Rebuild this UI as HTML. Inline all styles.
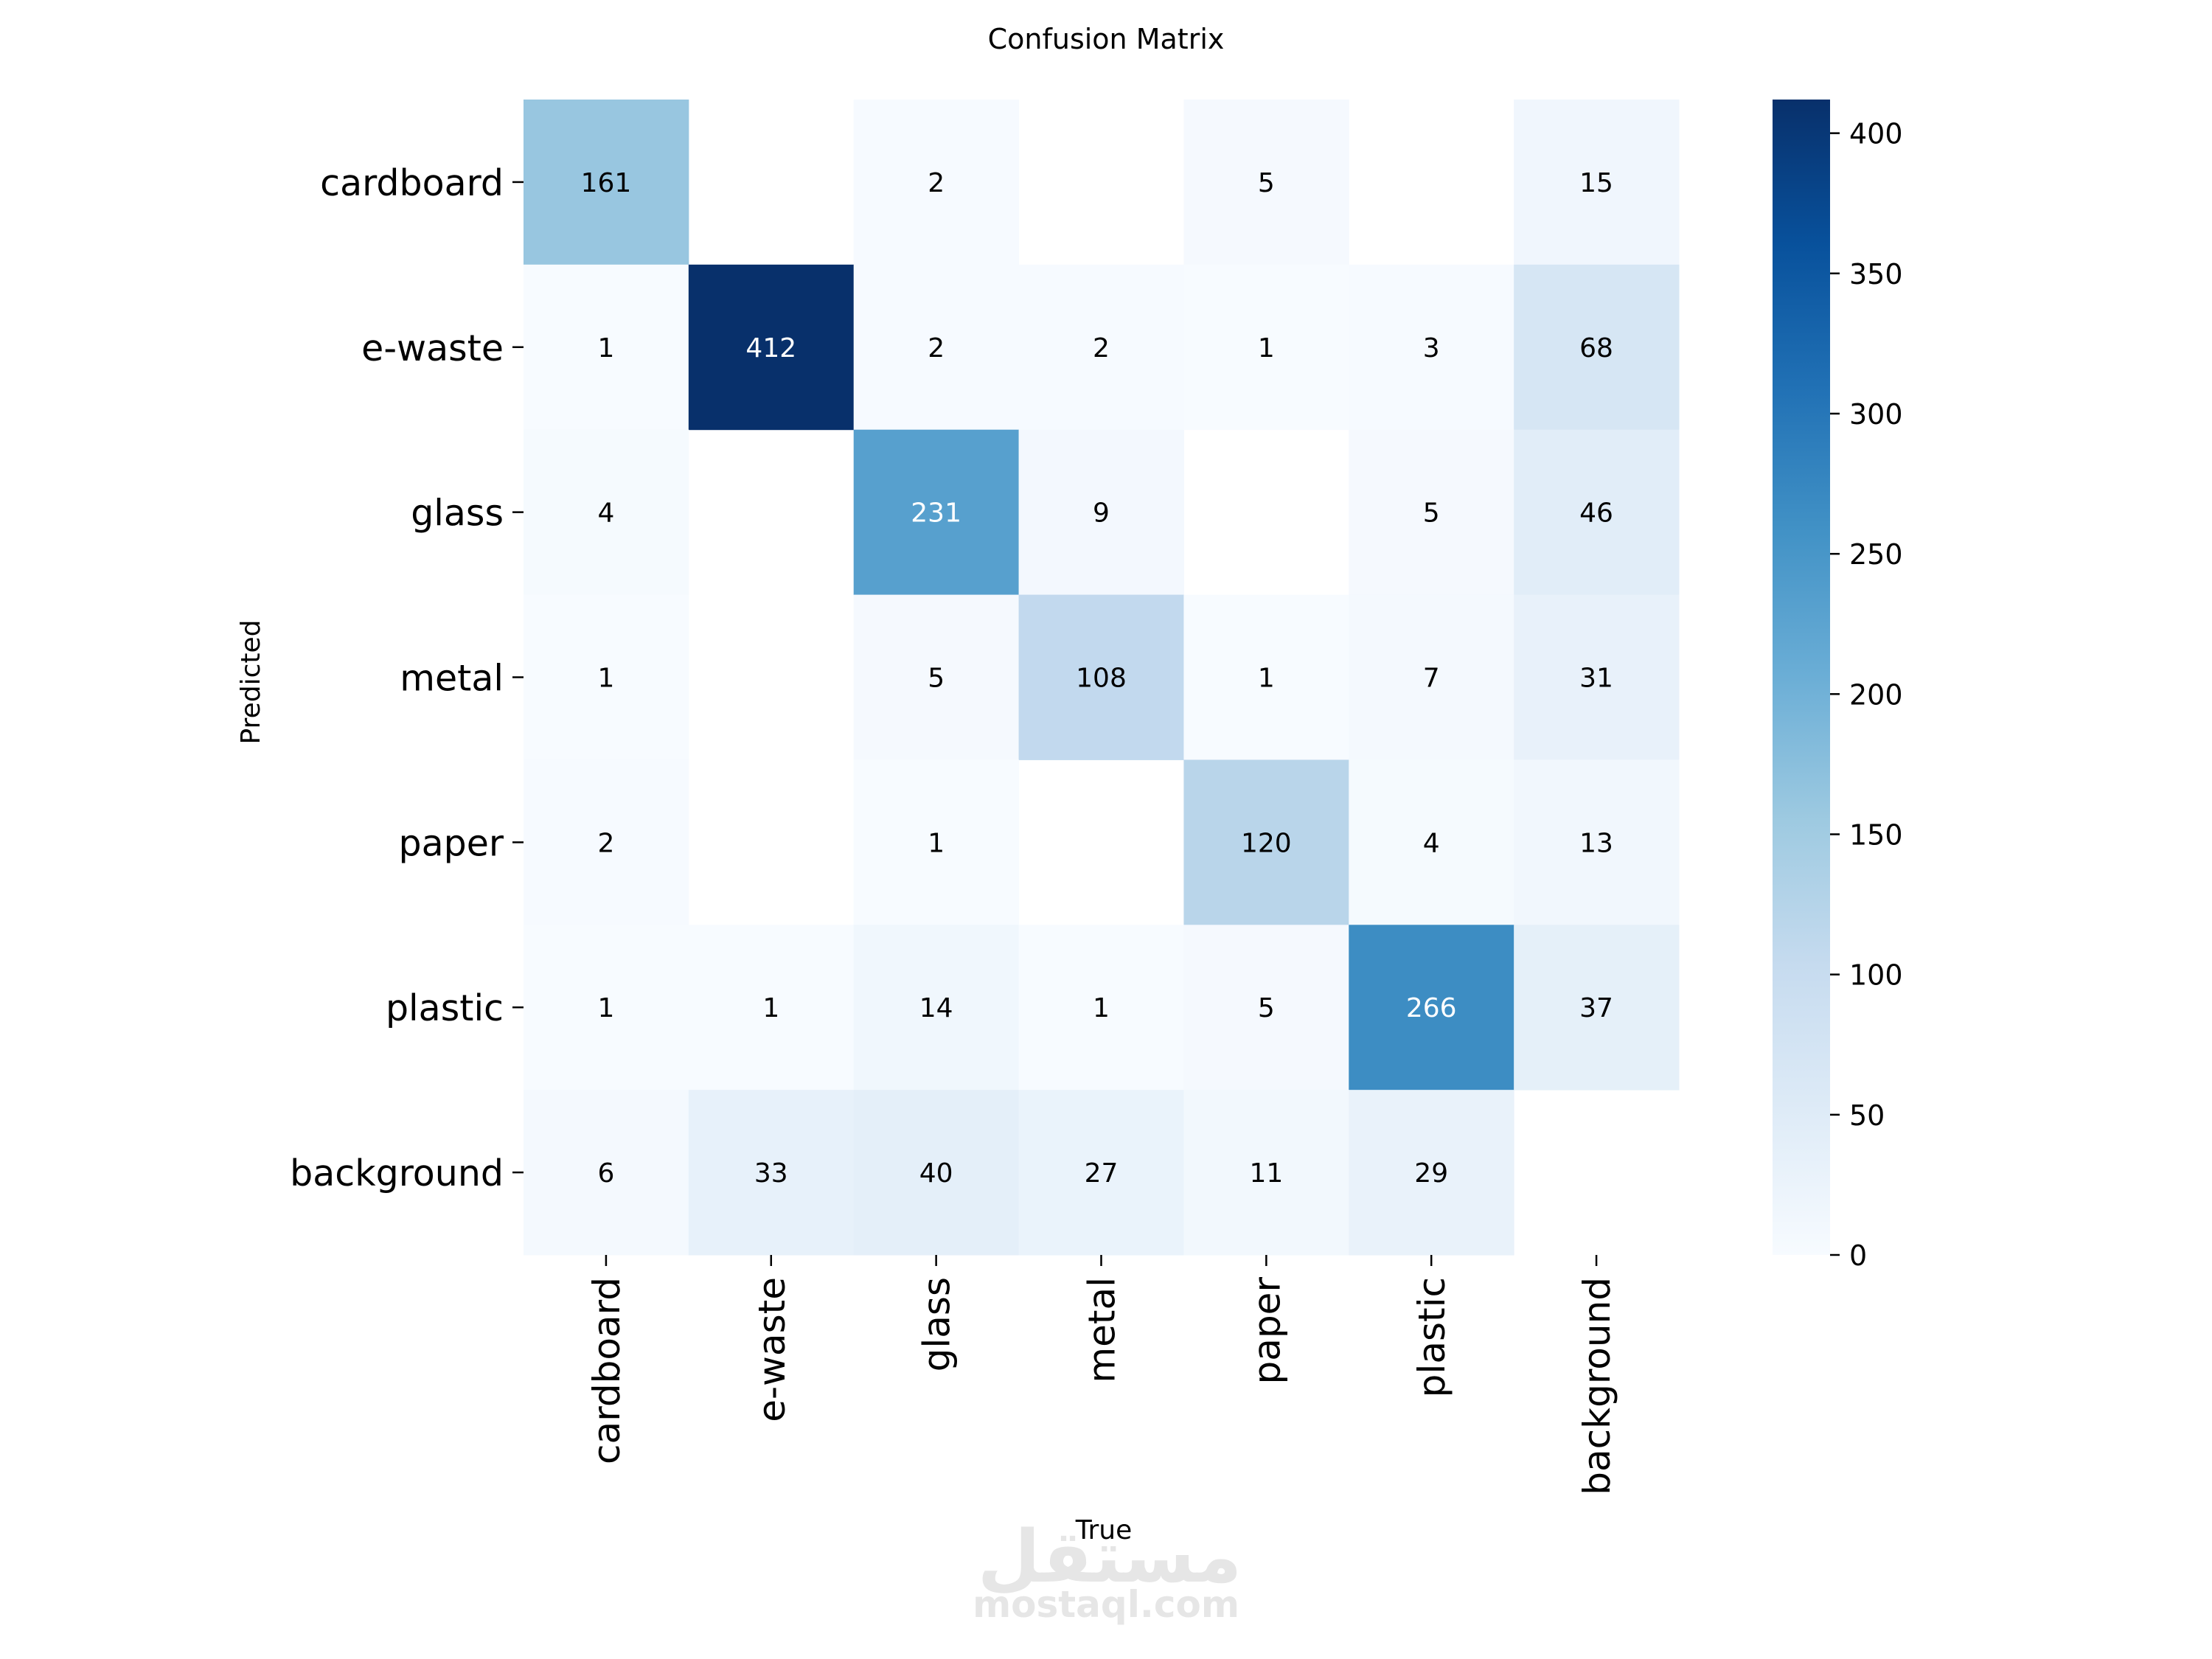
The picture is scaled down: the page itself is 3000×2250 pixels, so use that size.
<!DOCTYPE html>
<html><head><meta charset="utf-8"><style>
html,body{margin:0;padding:0;background:#fff;}
svg{display:block;font-family:"DejaVu Sans","Liberation Sans",sans-serif;}
</style></head><body>
<svg id="chart" width="3000" height="2250" viewBox="0 0 3000 2250" xmlns="http://www.w3.org/2000/svg">
<g>
<text x="1505" y="2145" text-anchor="middle" font-size="98" font-weight="bold" fill="#e6e6e6" font-family="'Noto Sans CJK SC','DejaVu Sans',sans-serif">مستقل</text>
<text x="1500" y="2193" text-anchor="middle" font-size="50" font-weight="bold" fill="#e6e6e6">mostaql.com</text>
</g>
<text x="1500" y="66" text-anchor="middle" font-size="38" fill="#000">Confusion Matrix</text>
<g id="cells"></g>
<g id="yticks"></g>
<g id="xticks"></g>
<text x="0" y="0" transform="translate(352,925) rotate(-90)" text-anchor="middle" font-size="36">Predicted</text>
<text x="1497" y="2087" text-anchor="middle" font-size="36">True</text>
<defs><linearGradient id="cbg" x1="0" y1="1" x2="0" y2="0">
<stop offset="0" stop-color="#f7fbff"/><stop offset="0.125" stop-color="#deebf7"/><stop offset="0.25" stop-color="#c6dbef"/><stop offset="0.375" stop-color="#9ecae1"/><stop offset="0.5" stop-color="#6baed6"/><stop offset="0.625" stop-color="#4292c6"/><stop offset="0.75" stop-color="#2171b5"/><stop offset="0.875" stop-color="#08519c"/><stop offset="1" stop-color="#08306b"/>
</linearGradient></defs>
<rect x="2404" y="135" width="78" height="1567" fill="url(#cbg)"/>
<g id="cbticks"></g>
</svg>
<script>
const predictedLabels = ["cardboard","e-waste","glass","metal","paper","plastic","background"];
const trueLabels = ["cardboard","e-waste","glass","metal","paper","plastic","background"];
const rowCardboard = [161,0,2,0,5,0,15];
const rowEwaste = [1,412,2,2,1,3,68];
const rowGlass = [4,0,231,9,0,5,46];
const rowMetal = [1,0,5,108,1,7,31];
const rowPaper = [2,0,1,0,120,4,13];
const rowPlastic = [1,1,14,1,5,266,37];
const rowBackground = [6,33,40,27,11,29,0];
const colorbarTicks = [0,50,100,150,200,250,300,350,400];
const vmin = 0, vmax = 412;

const matrix = [rowCardboard,rowEwaste,rowGlass,rowMetal,rowPaper,rowPlastic,rowBackground];
const NS = "http://www.w3.org/2000/svg";
const L = 710, T = 135, W = 1567, H = 1567;
const cw = W / trueLabels.length, ch = H / predictedLabels.length;
const xPos = i => L + i * cw;
const yPos = j => T + j * ch;
const cbY = v => 1702 - (v - vmin) / (vmax - vmin) * 1567;
const stops = ["#f7fbff","#deebf7","#c6dbef","#9ecae1","#6baed6","#4292c6","#2171b5","#08519c","#08306b"].map(h=>[parseInt(h.slice(1,3),16),parseInt(h.slice(3,5),16),parseInt(h.slice(5,7),16)]);
function blues(v){
  let t = Math.max(0, Math.min(1, (v - vmin) / (vmax - vmin))) * (stops.length - 1);
  let i = Math.min(Math.floor(t), stops.length - 2), f = t - i;
  return stops[i].map((c,k)=>Math.round(c + (stops[i+1][k]-c)*f));
}
function mk(tag, attrs, parent){ const e = document.createElementNS(NS, tag); for (const k in attrs) e.setAttribute(k, attrs[k]); parent.appendChild(e); return e; }
const cells = document.getElementById('cells');
matrix.forEach((row, j) => row.forEach((v, i) => {
  if (v === 0) return;
  const c = blues(v);
  const r = mk('rect', {x: xPos(i), y: yPos(j), width: cw + 0.5, height: ch + 0.5, fill: `rgb(${c[0]},${c[1]},${c[2]})`}, cells);
  
  
  const lum = (0.2126*c[0] + 0.7152*c[1] + 0.0722*c[2]) / 255;
  const t = mk('text', {x: xPos(i) + cw/2, y: yPos(j) + ch/2 + 13, 'text-anchor': 'middle', 'font-size': 36, fill: lum > 0.6 ? '#000' : '#fff'}, cells);
  
  
  t.textContent = v;
}));
const yt = document.getElementById('yticks');
predictedLabels.forEach((lab, j) => {
  const cy = yPos(j) + ch/2;
  const tk = mk('line', {x1: 695, x2: 710, y1: cy, y2: cy, stroke: '#000', 'stroke-width': 2.5}, yt);
  
  
  const t = mk('text', {x: 683, y: cy + 18, 'text-anchor': 'end', 'font-size': 49}, yt);
  
  
  t.textContent = lab;
});
const xt = document.getElementById('xticks');
trueLabels.forEach((lab, i) => {
  const cx = xPos(i) + cw/2;
  const tk = mk('line', {x1: cx, x2: cx, y1: 1702, y2: 1717, stroke: '#000', 'stroke-width': 2.5}, xt);
  
  
  const t = mk('text', {x: 0, y: 0, transform: `translate(${cx + 18},1732) rotate(-90)`, 'text-anchor': 'end', 'font-size': 50}, xt);
  
  
  t.textContent = lab;
});
const cb = document.getElementById('cbticks');
colorbarTicks.forEach(v => {
  const y = cbY(v);
  const tk = mk('line', {x1: 2482, x2: 2495, y1: y, y2: y, stroke: '#000', 'stroke-width': 2.5}, cb);
  
  
  const t = mk('text', {x: 2508, y: y + 14, 'font-size': 38}, cb);
  
  
  t.textContent = v;
});
</script>
</body></html>
